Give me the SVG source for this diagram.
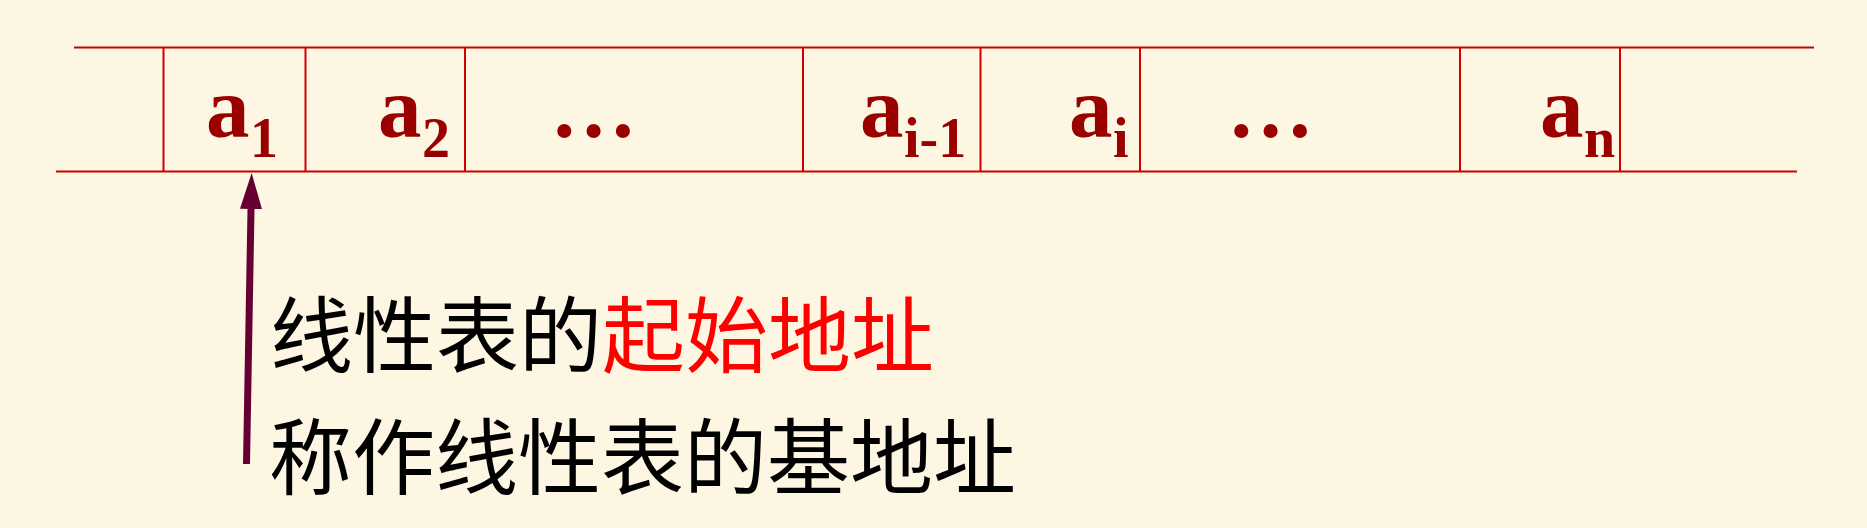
<svg xmlns="http://www.w3.org/2000/svg" width="1867" height="528" viewBox="0 0 1867 528">
<style>
.ln{stroke:#CC0000;stroke-width:2;fill:none}
.a{font-family:"Liberation Serif","Times New Roman",serif;font-weight:bold;fill:#990000;font-size:87px}
.s{font-family:"Liberation Serif","Times New Roman",serif;font-weight:bold;fill:#990000;font-size:56px}
.cn{font-family:"Noto Sans CJK SC","Noto Sans CJK TC",sans-serif;font-size:83px;fill:#000000}
.red{fill:#FF0000}
</style>
<defs>
<marker id="ah" markerUnits="userSpaceOnUse" markerWidth="36" markerHeight="22" refX="0" refY="11" orient="auto" viewBox="0 0 36 22">
<path d="M0,0 L36,11 L0,22 Z" fill="#660033"/>
</marker>
</defs>
<rect width="1867" height="528" fill="#FDF6E3"/>
<g id="table">
<line class="ln" x1="74" y1="47.5" x2="1814" y2="47.5"/>
<line class="ln" x1="56" y1="171.5" x2="1797" y2="171.5"/>
<line class="ln" x1="163.5" y1="47.5" x2="163.5" y2="171.5"/>
<line class="ln" x1="305.5" y1="47.5" x2="305.5" y2="171.5"/>
<line class="ln" x1="465" y1="47.5" x2="465" y2="171.5"/>
<line class="ln" x1="803" y1="47.5" x2="803" y2="171.5"/>
<line class="ln" x1="980.5" y1="47.5" x2="980.5" y2="171.5"/>
<line class="ln" x1="1140" y1="47.5" x2="1140" y2="171.5"/>
<line class="ln" x1="1460" y1="47.5" x2="1460" y2="171.5"/>
<line class="ln" x1="1620" y1="47.5" x2="1620" y2="171.5"/>
</g>
<g id="cell-a1"><text class="a" x="206" y="137">a</text><text class="s" x="250" y="157">1</text></g>
<g id="cell-a2"><text class="a" x="378" y="137">a</text><text class="s" x="422" y="157">2</text></g>
<g id="cell-dots1"><text class="a" x="550" y="137">…</text></g>
<g id="cell-ai-1"><text class="a" x="860" y="137">a</text><text class="s" x="904" y="157">i-1</text></g>
<g id="cell-ai"><text class="a" x="1069" y="137">a</text><text class="s" x="1113" y="157">i</text></g>
<g id="cell-dots2"><text class="a" x="1227" y="137">…</text></g>
<g id="cell-an"><text class="a" x="1540" y="137">a</text><text class="s" x="1584" y="157">n</text></g>
<g id="connectors">
<line x1="246.5" y1="464" x2="251" y2="209" stroke="#660033" stroke-width="7" marker-end="url(#ah)"/>
</g>
<g id="label">
<text class="cn" x="270" y="366">线性表的<tspan class="red">起始地址</tspan></text>
<text class="cn" x="269" y="488">称作线性表的基地址</text>
</g>
</svg>
